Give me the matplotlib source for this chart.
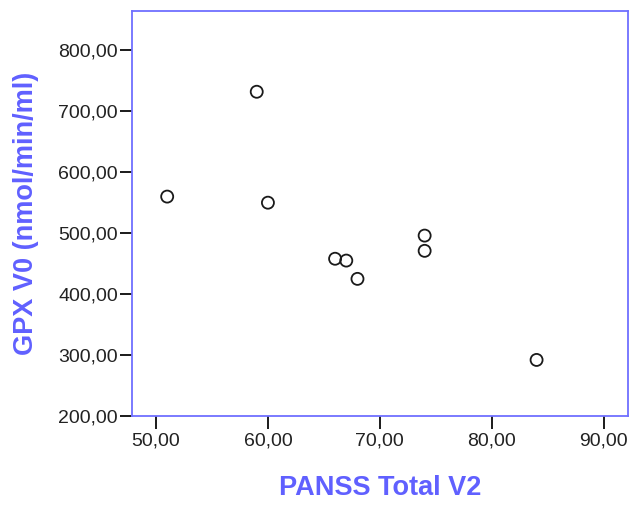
import matplotlib
matplotlib.use('Agg')
import matplotlib.pyplot as plt
from matplotlib.ticker import FuncFormatter

# --- Data ---
panss_total_v2 = [51, 59, 60, 66, 67, 68, 74, 74, 84]
gpx_v0 = [560, 732, 550, 458, 455, 425, 496, 471, 292]

x_ticks = [50, 60, 70, 80, 90]
y_ticks = [200, 300, 400, 500, 600, 700, 800]

LABEL_BLUE = '#6060FF'
SPINE_BLUE = '#7070FF'

plt.rcParams['font.family'] = ['Liberation Sans', 'DejaVu Sans']

fig = plt.figure(figsize=(6.31, 5.05), dpi=100)
ax = fig.add_axes([131.7 / 631, 1 - 416 / 505, (627.7 - 131.7) / 631, (416 - 10.7) / 505])

ax.scatter(panss_total_v2, gpx_v0, s=75, facecolors='none', edgecolors='#1a1a1a',
           linewidths=1.3, zorder=3)

ax.set_xlim(47.83, 92.14)
ax.set_ylim(200, 865)
ax.set_xticks(x_ticks)
ax.set_yticks(y_ticks)

comma_fmt = FuncFormatter(lambda v, pos: f"{v:.2f}".replace('.', ','))
ax.xaxis.set_major_formatter(comma_fmt)
ax.yaxis.set_major_formatter(comma_fmt)

for sp in ax.spines.values():
    sp.set_color(SPINE_BLUE)
    sp.set_linewidth(1.3)

ax.tick_params(axis='both', direction='out', length=9, width=1.4, color='#1a1a1a',
               labelsize=14, labelcolor='#222222')
ax.tick_params(axis='x', pad=3)
ax.tick_params(axis='y', pad=1)

ax.set_xlabel('PANSS Total V2', fontsize=19.5, fontweight='bold', color=LABEL_BLUE, labelpad=18)
ax.set_ylabel('GPX V0 (nmol/min/ml)', fontsize=19.5, fontweight='bold', color=LABEL_BLUE, labelpad=14)

fig.savefig('out.png', dpi=100)
